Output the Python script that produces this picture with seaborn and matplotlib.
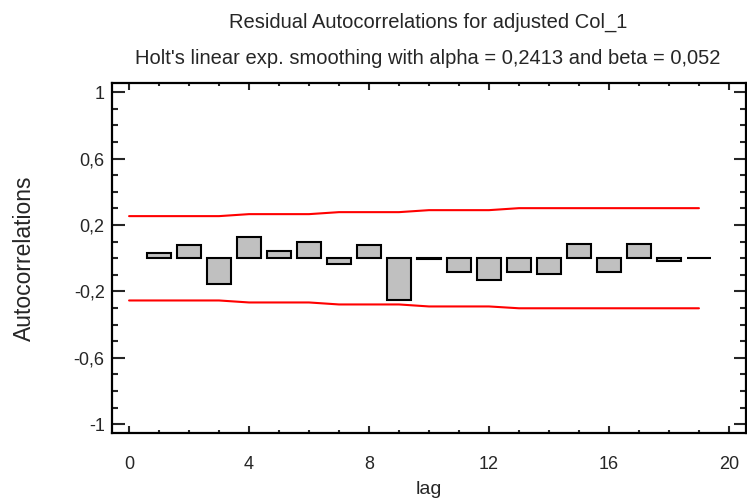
import numpy as np
import seaborn as sns
import matplotlib.pyplot as plt
from matplotlib.ticker import MultipleLocator, FixedLocator, FixedFormatter

# residual autocorrelations
lags = [1, 2, 3, 4, 5, 6, 7, 8, 9, 10, 11, 12, 13, 14, 15, 16, 17, 18, 19]
acf = [0.03, 0.078, -0.155, 0.127, 0.042, 0.10, -0.034, 0.078, -0.25, -0.003,
       -0.082, -0.13, -0.082, -0.094, 0.088, -0.082, 0.088, -0.018, 0.002]

# probability limits
limit_lags = [0, 1, 2, 3, 4, 5, 6, 7, 8, 9, 10, 11, 12, 13, 14, 15, 16, 17, 18, 19]
upper = [0.253, 0.253, 0.253, 0.253, 0.265, 0.265, 0.265, 0.277, 0.277, 0.277,
         0.289, 0.289, 0.289, 0.301, 0.301, 0.301, 0.301, 0.301, 0.301, 0.301]
lower = [-0.255, -0.255, -0.255, -0.255, -0.267, -0.267, -0.267, -0.279, -0.279, -0.279,
         -0.291, -0.291, -0.291, -0.302, -0.302, -0.302, -0.302, -0.302, -0.302, -0.302]

y_ticks = [-1, -0.6, -0.2, 0.2, 0.6, 1]
y_labels = ["-1", "-0,6", "-0,2", "0,2", "0,6", "1"]
x_ticks = [0, 4, 8, 12, 16, 20]

sns.set_style("ticks")
plt.rcParams['font.family'] = ['Liberation Sans', 'DejaVu Sans']

fig = plt.figure(figsize=(7.47, 5.0), dpi=100)
ax = fig.add_axes([0.1495, 0.1334, 0.8492, 0.7000])

sns.barplot(x=lags, y=acf, native_scale=True, width=0.8, color="#C0C0C0",
            saturation=1, edgecolor="black", linewidth=1.5, errorbar=None, ax=ax)
sns.lineplot(x=limit_lags, y=upper, color="red", linewidth=1.5, ax=ax)
sns.lineplot(x=limit_lags, y=lower, color="red", linewidth=1.5, ax=ax)

ax.set_xlim(-0.58, 20.57)
ax.set_ylim(-1.055, 1.053)

ax.xaxis.set_major_locator(FixedLocator(x_ticks))
ax.xaxis.set_minor_locator(MultipleLocator(1))
ax.yaxis.set_major_locator(FixedLocator(y_ticks))
ax.yaxis.set_major_formatter(FixedFormatter(y_labels))
ax.yaxis.set_minor_locator(MultipleLocator(0.1))

ax.tick_params(axis="x", which="major", direction="in", length=5, width=1.5,
               top=True, bottom=True, labelsize=13, pad=16)
ax.tick_params(axis="x", which="minor", direction="in", length=2.5, width=1.5,
               top=True, bottom=True)
ax.tick_params(axis="y", which="major", direction="in", length=9, width=1.5,
               left=True, right=True, labelsize=13, pad=5)
ax.tick_params(axis="y", which="minor", direction="in", length=4.5, width=1.5,
               left=True, right=True)
for side in ax.spines.values():
    side.set_visible(True)
    side.set_linewidth(1.6)
    side.set_color("black")

ax.set_xlabel("lag", fontsize=14, labelpad=6)
ax.set_ylabel("Autocorrelations", fontsize=16.5, labelpad=27)
fig.text(0.573, 0.955, "Residual Autocorrelations for adjusted Col_1",
         ha="center", va="center", fontsize=14.5)
fig.text(0.573, 0.884, "Holt's linear exp. smoothing with alpha = 0,2413 and beta = 0,052",
         ha="center", va="center", fontsize=14.5)

plt.savefig("out.png", dpi=100)
plt.close()
